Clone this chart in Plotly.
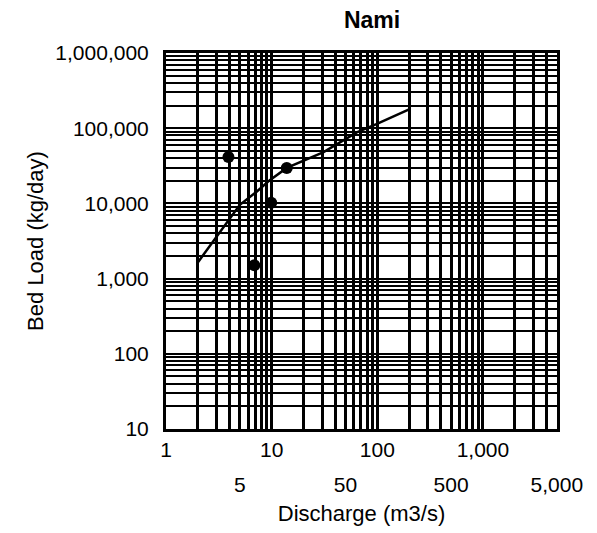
import math
import plotly.graph_objects as go

# Observed points
obs_q = [3.9, 6.85, 9.9, 13.9]
obs_load = [41300, 1510, 10200, 29600]

# Rating curve
curve_q = [2, 3.5, 5.0, 7.2, 9.6, 13.9, 31, 64, 98, 200]
curve_load = [1640, 4720, 9560, 14300, 20400, 29600, 48100, 88000, 113000, 178000]

# Tick labels
x_ticks_row1 = [1, 10, 100, 1000]
x_labels_row1 = ["1", "10", "100", "1,000"]
x_ticks_row2 = [5, 50, 500, 5000]
x_labels_row2 = ["5", "50", "500", "5,000"]
y_ticks = [10, 100, 1000, 10000, 100000, 1000000]
y_labels = ["10", "100", "1,000", "10,000", "100,000", "1,000,000"]

FONT = "Liberation Sans, Arial, sans-serif"

x_minor = [d * 10 ** k for k in range(0, 4) for d in range(1, 10) if d * 10 ** k <= 5000]
y_minor = [d * 10 ** k for k in range(1, 6) for d in range(1, 10)]

xr = [0, math.log10(5000) + 0.002]
yr = [1, 6]

fig = go.Figure()
fig.add_trace(go.Scatter(x=curve_q, y=curve_load, mode="lines",
                         line=dict(color="black", width=2.5), showlegend=False,
                         hoverinfo="skip"))
fig.add_trace(go.Scatter(x=obs_q, y=obs_load, mode="markers",
                         marker=dict(color="black", size=12), showlegend=False))
fig.add_trace(go.Scatter(x=[], y=[], xaxis="x2", yaxis="y", showlegend=False))

fig.update_layout(
    width=597, height=533,
    margin=dict(l=166, r=40, t=53, b=100),
    paper_bgcolor="white", plot_bgcolor="white",
    font=dict(family=FONT, color="black", size=21),
    title=dict(text="<b>Nami</b>", x=372 / 597, xref="container", xanchor="center",
               y=1 - 20 / 533, yref="container", yanchor="middle",
               font=dict(family=FONT, size=23, color="black")),
    xaxis=dict(type="log", range=xr, tickmode="array", tickvals=x_ticks_row1,
               ticktext=x_labels_row1, ticks="", showgrid=True, gridcolor="black",
               gridwidth=2.5, showline=True, mirror=True, linecolor="black",
               linewidth=3, ticklabelstandoff=0,
               minor=dict(tickmode="array", tickvals=x_minor, showgrid=True,
                          gridcolor="black", gridwidth=2.5, ticks=""),
               zeroline=False),
    xaxis2=dict(type="log", range=xr, overlaying="x", anchor="y", side="bottom",
                tickmode="array", tickvals=x_ticks_row2, ticktext=x_labels_row2,
                ticks="", showgrid=False, showline=False, ticklabelstandoff=41,
                title=dict(text="Discharge (m3/s)", standoff=10,
                           font=dict(family=FONT, size=22, color="black")),
                zeroline=False),
    yaxis=dict(type="log", range=yr, tickmode="array", tickvals=y_ticks,
               ticktext=y_labels, ticks="", showgrid=True, gridcolor="black",
               gridwidth=1.8, showline=True, mirror=True, linecolor="black",
               linewidth=3, ticklabelstandoff=10,
               minor=dict(tickmode="array", tickvals=y_minor, showgrid=True,
                          gridcolor="black", gridwidth=1.8, ticks=""),
               title=dict(text="Bed Load (kg/day)", standoff=6,
                          font=dict(family=FONT, size=22, color="black")),
               zeroline=False),
)

fig.write_html("out.html")
